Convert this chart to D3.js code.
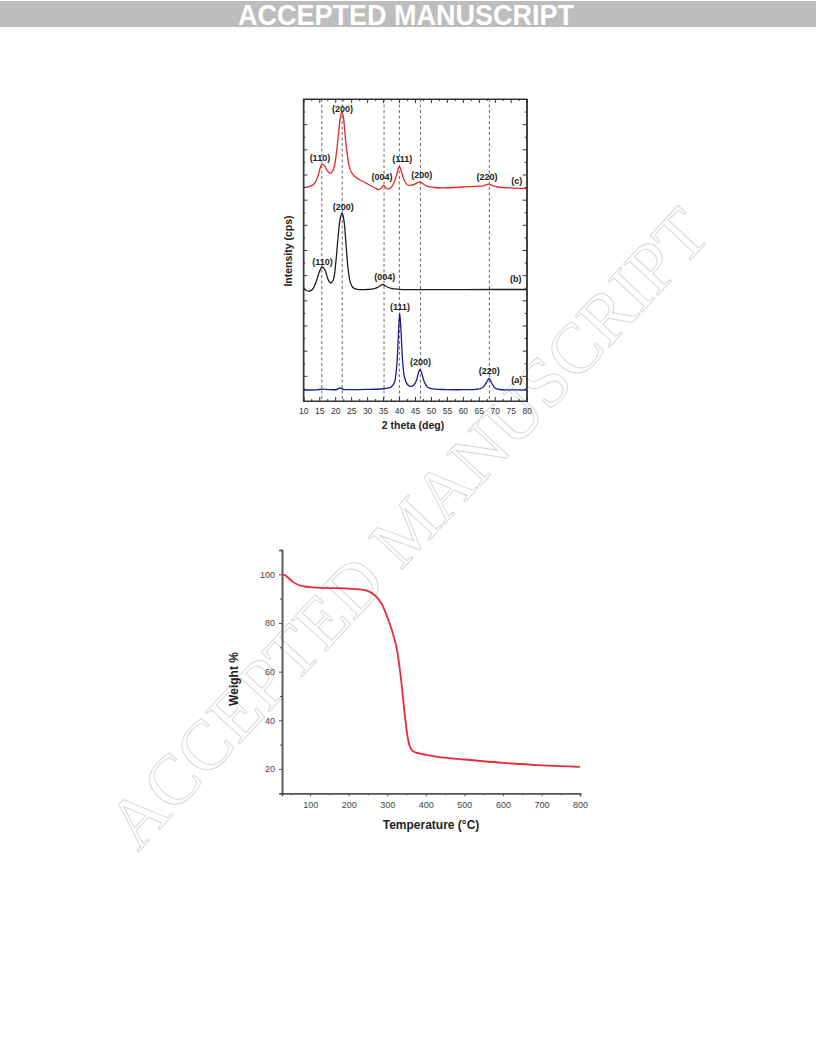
<!DOCTYPE html>
<html><head><meta charset="utf-8">
<script src="https://cdn.jsdelivr.net/npm/d3@7"></script>
<style>body{margin:0;background:#fff}svg{display:block}</style>
</head><body>
<script>
// ---------- DATA ----------
const xrdXTicks = [10,15,20,25,30,35,40,45,50,55,60,65,70,75,80];
const peakLines = [15.8, 22.2, 35.3, 40.1, 46.7, 68.3];
// (c) red
const xrdC = [[10,8477],[12,8524],[13.5,8643],[14.5,8902],[15.3,9259],[15.9,9418],[16.7,9339],[17.6,9140],[18.5,9041],[19.5,9220],[20.3,9776],[21.0,10571],[21.6,11246],[22.1,11497],[22.6,11246],[23.1,10571],[23.6,9975],[24.3,9379],[25,9100],[26,8942],[27.5,8802],[29,8703],[31,8564],[32.5,8465],[33.5,8405],[34.3,8445],[35.1,8564],[35.8,8484],[36.6,8425],[37.5,8484],[38.5,8703],[39.3,9021],[40.1,9319],[40.8,9100],[41.6,8783],[42.5,8604],[43.5,8564],[44.7,8604],[46.0,8683],[46.7,8703],[47.6,8624],[49,8524],[51,8484],[55,8473],[60,8504],[64,8532],[66.5,8552],[68.2,8616],[69.5,8544],[71,8504],[75,8465],[80,8437]];
// (b) black
const xrdB = [[10,4491],[11,4391],[12,4371],[13,4451],[14,4729],[15,5126],[15.9,5325],[16.8,5206],[17.7,4848],[18.6,4689],[19.4,4809],[20.2,5524],[20.9,6517],[21.6,7272],[22.2,7471],[22.8,7113],[23.4,6199],[24.0,5285],[24.7,4729],[25.5,4510],[27,4431],[30,4431],[32,4451],[33.5,4530],[34.9,4630],[36,4550],[37.5,4471],[40,4439],[50,4427],[60,4427],[70,4431],[80,4431]];
// (a) blue
const xrdA = [[10,437],[14,445],[16,469],[18,453],[20.5,457],[21.5,517],[22,497],[22.6,457],[25,453],[30,461],[34,477],[36,505],[37.5,556],[38.5,715],[39.3,1431],[39.8,2623],[40.2,3497],[40.6,2822],[41.1,1629],[41.7,954],[42.5,676],[43.5,584],[44.5,616],[45.5,835],[46.2,1172],[46.6,1260],[47.1,1113],[47.8,795],[48.7,576],[50,489],[55,453],[60,449],[64,461],[66,517],[67.3,715],[68.2,894],[69.0,715],[70,517],[71.5,457],[75,445],[80,437]];
// peak labels: [2theta, cps, text]
const labelsC = [[15.2,9538,"(110)"],[22.3,11485,"(200)"],[34.7,8783,"(004)"],[41.0,9498,"(111)"],[47.1,8862,"(200)"],[67.6,8783,"(220)"],[76.9,8624,"(c)"]];
const labelsB = [[16.0,5405,"(110)"],[22.5,7590,"(200)"],[35.5,4809,"(004)"],[76.6,4729,"(b)"]];
const labelsA = [[40.3,3616,"(111)"],[46.7,1431,"(200)"],[68.3,1073,"(220)"],[76.9,715,"(a)"]];

const tgaXTicks = [100,200,300,400,500,600,700,800];
const tgaYTicks = [20,40,60,80,100];
const tgaTemp   = [27,35,45,55,70,85,100,130,170,210,235,255,270,285,300,312,324,335,345,352,358,365,375,400,430,500,600,700,800];
const tgaWeight = [100,99.6,98.3,96.9,95.6,95.0,94.7,94.4,94.3,94.0,93.7,92.8,91.0,88.0,82.5,77,70,58,43,34,29.5,27.5,26.7,25.8,25.0,23.9,22.5,21.5,20.9];

// ---------- DRAW ----------
const W = 816, H = 1056;
const svg = d3.select("body").append("svg").attr("width", W).attr("height", H);

// watermark
svg.append("text")
  .attr("transform", "translate(408,528) rotate(-47)")
  .attr("text-anchor", "middle").attr("dominant-baseline", "central")
  .attr("font-family", "'Liberation Serif','DejaVu Serif',serif")
  .attr("font-size", 71).attr("fill", "none")
  .attr("stroke", "#d4d4d4").attr("stroke-width", 0.9)
  .text("ACCEPTED MANUSCRIPT");

// header
svg.append("rect").attr("x", 0).attr("y", 1).attr("width", W).attr("height", 26).attr("fill", "#bdbdbd");
svg.append("text").attr("x", 406).attr("y", 25).attr("text-anchor", "middle")
  .attr("font-family", "'Liberation Sans',Arial,sans-serif").attr("font-weight", "bold")
  .attr("font-size", 29).attr("fill", "#fff")
  .attr("textLength", 336).attr("lengthAdjust", "spacingAndGlyphs")
  .text("ACCEPTED MANUSCRIPT");

// ---------- XRD ----------
const xL = 303.3, xR = 526.7, yT = 99, yB = 401;
const x1 = d3.scaleLinear().domain([10, 80]).range([xL, xR]);
const y1 = d3.scaleLinear().domain([0, 12000]).range([yB, yT]);
const g1 = svg.append("g");
const font = "'Liberation Sans',Arial,sans-serif";

// dashed lines
g1.selectAll("line.dash").data(peakLines).join("line")
  .attr("x1", d => x1(d)).attr("x2", d => x1(d)).attr("y1", yT).attr("y2", yB)
  .attr("stroke", "#444").attr("stroke-width", 0.8).attr("stroke-dasharray", "3,2.5");

// curves
const line1 = d3.line().x(d => x1(d[0])).y(d => y1(d[1])).curve(d3.curveCatmullRom.alpha(0.5));
[[xrdA, "#1c1c8c"], [xrdB, "#1e1e1e"], [xrdC, "#e3262b"]].forEach(([data, col]) => {
  g1.append("path").datum(data).attr("d", line1).attr("fill", "none")
    .attr("stroke", col).attr("stroke-width", 1.3).attr("stroke-linejoin", "round");
});

// frame and ticks via axes
const minX = d3.range(12.5, 80, 5);
const axB = d3.axisBottom(x1).tickValues(xrdXTicks).tickSize(-4).tickPadding(7).tickFormat(d3.format("d"));
const gxb = g1.append("g").attr("transform", `translate(0,${yB})`).call(axB);
gxb.selectAll("text").attr("font-family", font).attr("font-size", 8.5).attr("fill", "#333");
g1.append("g").attr("transform", `translate(0,${yB})`).call(d3.axisBottom(x1).tickValues(minX).tickSize(-2).tickFormat(""));
g1.append("g").attr("transform", `translate(0,${yT})`).call(d3.axisTop(x1).tickValues(xrdXTicks).tickSize(-4).tickFormat(""));
g1.append("g").attr("transform", `translate(0,${yT})`).call(d3.axisTop(x1).tickValues(minX).tickSize(-2).tickFormat(""));
const majY = d3.range(0, 12001, 1000), minY = d3.range(500, 12000, 1000);
g1.append("g").attr("transform", `translate(${xL},0)`).call(d3.axisLeft(y1).tickValues(majY).tickSize(-4).tickFormat(""));
g1.append("g").attr("transform", `translate(${xL},0)`).call(d3.axisLeft(y1).tickValues(minY).tickSize(-2).tickFormat(""));
g1.append("g").attr("transform", `translate(${xR},0)`).call(d3.axisRight(y1).tickValues(majY).tickSize(-4).tickFormat(""));
g1.append("g").attr("transform", `translate(${xR},0)`).call(d3.axisRight(y1).tickValues(minY).tickSize(-2).tickFormat(""));
g1.selectAll(".domain").attr("stroke", "#333");
g1.selectAll(".tick line").attr("stroke", "#333");
g1.append("rect").attr("x", xL).attr("y", yT).attr("width", xR - xL).attr("height", yB - yT)
  .attr("fill", "none").attr("stroke", "#333").attr("stroke-width", 1);

// peak labels
[labelsC, labelsB, labelsA].forEach(arr => {
  g1.selectAll(null).data(arr).join("text")
    .attr("x", d => x1(d[0])).attr("y", d => y1(d[1]))
    .attr("text-anchor", "middle").attr("font-family", font).attr("font-weight", "bold")
    .attr("font-size", 9).attr("fill", "#222").text(d => d[2]);
});
g1.append("text").attr("x", 413).attr("y", 429).attr("text-anchor", "middle")
  .attr("font-family", font).attr("font-weight", "bold").attr("font-size", 10.5).attr("fill", "#222")
  .text("2 theta (deg)");
g1.append("text").attr("transform", "translate(292,251) rotate(-90)").attr("text-anchor", "middle")
  .attr("font-family", font).attr("font-weight", "bold").attr("font-size", 10.5).attr("fill", "#222")
  .text("Intensity (cps)");

// ---------- TGA ----------
const x2 = d3.scaleLinear().domain([27, 800]).range([282, 580]);
const y2 = d3.scaleLinear().domain([10, 110]).range([793.3, 550]);
const g2 = svg.append("g");
const axX2 = d3.axisBottom(x2).tickValues(tgaXTicks).tickSize(3).tickPadding(5).tickFormat(d3.format("d"));
g2.append("g").attr("transform", "translate(0,793.3)").call(axX2);
g2.append("g").attr("transform", "translate(0,793.3)")
  .call(d3.axisBottom(x2).tickValues(d3.range(50, 800, 100)).tickSize(2).tickFormat(""));
const axY2 = d3.axisLeft(y2).tickValues(tgaYTicks).tickSize(3).tickPadding(4).tickFormat(d3.format("d"));
g2.append("g").attr("transform", "translate(282,0)").call(axY2);
g2.append("g").attr("transform", "translate(282,0)")
  .call(d3.axisLeft(y2).tickValues([30, 50, 70, 90]).tickSize(2).tickFormat(""));
g2.selectAll(".domain").attr("stroke", "#555").attr("stroke-width", 1.5);
g2.selectAll(".tick line").attr("stroke", "#555");
g2.selectAll(".tick text").attr("font-family", font).attr("font-size", 9).attr("fill", "#444");
g2.append("path").datum(tgaTemp.map((t, i) => [t, tgaWeight[i]]))
  .attr("d", d3.line().x(d => x2(d[0])).y(d => y2(d[1])).curve(d3.curveCatmullRom.alpha(0.5)))
  .attr("fill", "none").attr("stroke", "#ec2a35").attr("stroke-width", 1.8);
g2.append("text").attr("x", 431).attr("y", 829).attr("text-anchor", "middle")
  .attr("font-family", font).attr("font-weight", "bold").attr("font-size", 12).attr("fill", "#222")
  .text("Temperature (°C)");
g2.append("text").attr("transform", "translate(238,679) rotate(-90)").attr("text-anchor", "middle")
  .attr("font-family", font).attr("font-weight", "bold").attr("font-size", 12).attr("fill", "#222")
  .text("Weight %");
</script>
</body></html>
